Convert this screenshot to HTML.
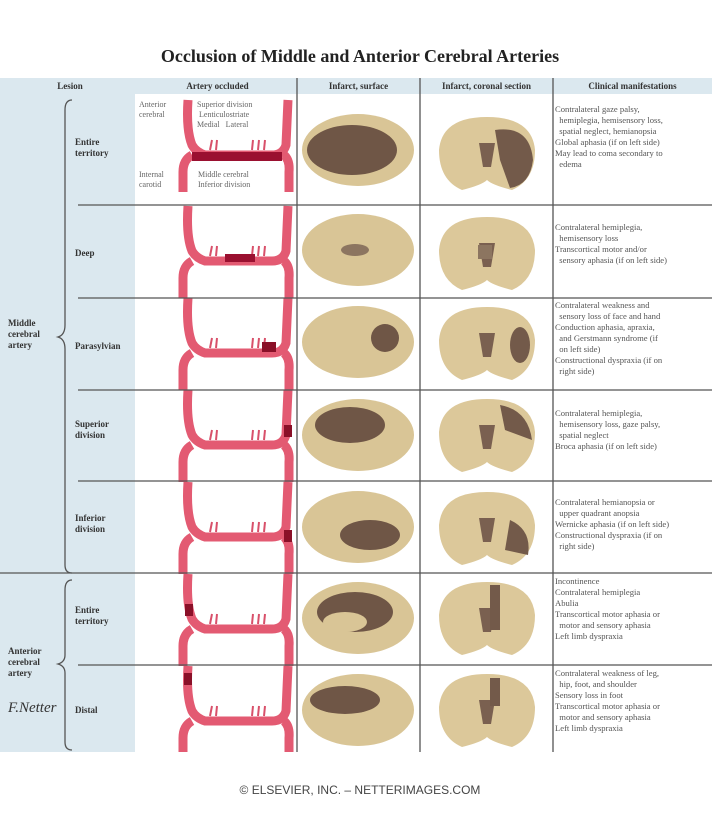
<!DOCTYPE html>
<html><head><meta charset="utf-8"><style>
body{margin:0;width:720px;height:832px;background:#fff;position:relative;overflow:hidden;font-family:"Liberation Serif",serif;color:#444}
.a{position:absolute}
.h{font-size:9px;font-weight:bold;color:#333;text-align:center}
.c{font-size:8.6px;line-height:11px;color:#555;left:555px;width:160px}
.c div{text-indent:-5px;padding-left:5px}
.l{font-size:9px;font-weight:bold;color:#333;line-height:11px}
.s{font-size:8px;color:#666;line-height:10px}
</style></head><body>
<div class="a" style="left:0;top:78px;width:135px;height:674px;background:#dbe8ef"></div>
<div class="a" style="left:135px;top:78px;width:577px;height:16px;background:#dbe8ef"></div>
<div class="a" style="left:0;top:46px;width:720px;text-align:center;font-size:18px;font-weight:bold;color:#222">Occlusion of Middle and Anterior Cerebral Arteries</div>
<div class="a h" style="left:30px;top:81px;width:80px">Lesion</div>
<div class="a h" style="left:140px;top:81px;width:155px">Artery occluded</div>
<div class="a h" style="left:297px;top:81px;width:123px">Infarct, surface</div>
<div class="a h" style="left:420px;top:81px;width:133px">Infarct, coronal section</div>
<div class="a h" style="left:553px;top:81px;width:159px">Clinical manifestations</div>
<svg class="a" style="left:0;top:0" width="720" height="832">
<defs>
<g id="ar"><path d="M188 0 Q186 30 192 45 Q196 52 205 55 L272 55 Q283 55 286 45 L288 0" stroke="#e35a72" stroke-width="9" fill="none"/>
<path d="M192 55 Q183 60 183 72 L183 92 M284 55 Q290 60 289 72 L289 92" stroke="#e35a72" stroke-width="9" fill="none"/>
<path d="M210 50 L212 40 M216 50 L217 40 M252 50 L253 40 M258 50 L259 40 M264 50 L265 40" stroke="#d8506a" stroke-width="2"/></g>
<g id="sb"><ellipse cx="0" cy="0" rx="56" ry="36" fill="#d9c596"/></g>
<g id="cb"><path d="M-48 -5 Q-45 -38 0 -38 Q45 -38 48 -5 Q48 25 25 35 Q5 30 0 25 Q-5 30 -25 35 Q-48 25 -48 -5Z" fill="#dcc89a"/><path d="M-8 -12 L8 -12 L4 12 L-4 12Z" fill="#7a6050"/></g>
</defs>
<use href="#ar" x="0" y="100"/><use href="#ar" x="0" y="206"/><use href="#ar" x="0" y="298"/><use href="#ar" x="0" y="390"/><use href="#ar" x="0" y="482"/><use href="#ar" x="0" y="574"/><use href="#ar" x="0" y="666"/>
<rect x="0" y="752" width="720" height="30" fill="#fff"/>
<g stroke="#555" stroke-width="1.3" fill="none">
<line x1="297" y1="78" x2="297" y2="752"/><line x1="420" y1="78" x2="420" y2="752"/><line x1="553" y1="78" x2="553" y2="752"/>
<line x1="78" y1="205" x2="712" y2="205"/><line x1="78" y1="298" x2="712" y2="298"/><line x1="78" y1="390" x2="712" y2="390"/><line x1="78" y1="481" x2="712" y2="481"/><line x1="0" y1="573" x2="712" y2="573"/><line x1="78" y1="665" x2="712" y2="665"/>
<path d="M72 100 Q65 100 65 110 L65 325 Q65 335 58 337 Q65 339 65 349 L65 565 Q65 573 72 573"/>
<path d="M72 580 Q65 580 65 590 L65 655 Q65 662 58 664 Q65 666 65 673 L65 742 Q65 750 72 750"/>
</g>
<rect x="192" y="152" width="90" height="9" fill="#9a1030"/>
<rect x="225" y="254" width="30" height="8" fill="#9a1030"/>
<rect x="262" y="342" width="14" height="10" fill="#8a1028"/>
<rect x="284" y="425" width="8" height="12" fill="#8a1028"/>
<rect x="284" y="530" width="8" height="12" fill="#8a1028"/>
<rect x="185" y="604" width="8" height="12" fill="#8a1028"/>
<rect x="184" y="673" width="8" height="12" fill="#8a1028"/>
<use href="#sb" x="358" y="150"/><use href="#sb" x="358" y="250"/><use href="#sb" x="358" y="342"/><use href="#sb" x="358" y="435"/><use href="#sb" x="358" y="527"/><use href="#sb" x="358" y="618"/><use href="#sb" x="358" y="710"/>
<ellipse cx="352" cy="150" rx="45" ry="25" fill="#6f5646"/>
<ellipse cx="355" cy="250" rx="14" ry="6" fill="#8c7560"/>
<ellipse cx="385" cy="338" rx="14" ry="14" fill="#6f5646"/>
<ellipse cx="350" cy="425" rx="35" ry="18" fill="#6f5646"/>
<ellipse cx="370" cy="535" rx="30" ry="15" fill="#6f5646"/>
<ellipse cx="355" cy="612" rx="38" ry="20" fill="#6f5646"/><ellipse cx="345" cy="622" rx="22" ry="10" fill="#d9c596"/>
<ellipse cx="345" cy="700" rx="35" ry="14" fill="#6f5646"/>
<use href="#cb" x="487" y="155"/><use href="#cb" x="487" y="255"/><use href="#cb" x="487" y="345"/><use href="#cb" x="487" y="437"/><use href="#cb" x="487" y="530"/><use href="#cb" x="487" y="620"/><use href="#cb" x="487" y="712"/>
<path d="M495 130 Q530 125 533 160 Q530 185 510 188 L500 160Z" fill="#735a4a"/>
<rect x="478" y="245" width="14" height="14" fill="#8c7560"/>
<ellipse cx="520" cy="345" rx="10" ry="18" fill="#735a4a"/>
<path d="M500 405 Q528 410 532 440 L505 430Z" fill="#735a4a"/>
<path d="M510 520 Q532 530 528 555 L505 550Z" fill="#735a4a"/>
<rect x="490" y="585" width="10" height="45" fill="#735a4a"/>
<rect x="490" y="678" width="10" height="28" fill="#735a4a"/>
</svg>
<div class="a s" style="left:139px;top:100px">Anterior<br>cerebral</div>
<div class="a s" style="left:197px;top:100px">Superior division<br>&nbsp;Lenticulostriate<br>Medial &nbsp;&nbsp;Lateral</div>
<div class="a s" style="left:139px;top:170px">Internal<br>carotid</div>
<div class="a s" style="left:198px;top:170px">Middle cerebral<br>Inferior division</div>
<div class="a l" style="left:75px;top:137px">Entire<br>territory</div>
<div class="a l" style="left:75px;top:248px">Deep</div>
<div class="a l" style="left:75px;top:341px">Parasylvian</div>
<div class="a l" style="left:75px;top:419px">Superior<br>division</div>
<div class="a l" style="left:75px;top:513px">Inferior<br>division</div>
<div class="a l" style="left:75px;top:605px">Entire<br>territory</div>
<div class="a l" style="left:75px;top:705px">Distal</div>
<div class="a l" style="left:8px;top:318px">Middle<br>cerebral<br>artery</div>
<div class="a l" style="left:8px;top:646px">Anterior<br>cerebral<br>artery</div>
<div class="a" style="left:8px;top:700px;font-style:italic;font-size:15px;color:#333">F.Netter</div>
<div class="a c" style="top:104px"><div>Contralateral gaze palsy,</div><div>&nbsp;&nbsp;hemiplegia, hemisensory loss,</div><div>&nbsp;&nbsp;spatial neglect, hemianopsia</div><div>Global aphasia (if on left side)</div><div>May lead to coma secondary to</div><div>&nbsp;&nbsp;edema</div></div>
<div class="a c" style="top:222px"><div>Contralateral hemiplegia,</div><div>&nbsp;&nbsp;hemisensory loss</div><div>Transcortical motor and/or</div><div>&nbsp;&nbsp;sensory aphasia (if on left side)</div></div>
<div class="a c" style="top:300px"><div>Contralateral weakness and</div><div>&nbsp;&nbsp;sensory loss of face and hand</div><div>Conduction aphasia, apraxia,</div><div>&nbsp;&nbsp;and Gerstmann syndrome (if</div><div>&nbsp;&nbsp;on left side)</div><div>Constructional dyspraxia (if on</div><div>&nbsp;&nbsp;right side)</div></div>
<div class="a c" style="top:408px"><div>Contralateral hemiplegia,</div><div>&nbsp;&nbsp;hemisensory loss, gaze palsy,</div><div>&nbsp;&nbsp;spatial neglect</div><div>Broca aphasia (if on left side)</div></div>
<div class="a c" style="top:497px"><div>Contralateral hemianopsia or</div><div>&nbsp;&nbsp;upper quadrant anopsia</div><div>Wernicke aphasia (if on left side)</div><div>Constructional dyspraxia (if on</div><div>&nbsp;&nbsp;right side)</div></div>
<div class="a c" style="top:576px"><div>Incontinence</div><div>Contralateral hemiplegia</div><div>Abulia</div><div>Transcortical motor aphasia or</div><div>&nbsp;&nbsp;motor and sensory aphasia</div><div>Left limb dyspraxia</div></div>
<div class="a c" style="top:668px"><div>Contralateral weakness of leg,</div><div>&nbsp;&nbsp;hip, foot, and shoulder</div><div>Sensory loss in foot</div><div>Transcortical motor aphasia or</div><div>&nbsp;&nbsp;motor and sensory aphasia</div><div>Left limb dyspraxia</div></div>
<div class="a" style="left:0;top:783px;width:720px;text-align:center;font-family:'Liberation Sans',sans-serif;font-size:12px;color:#444">© ELSEVIER, INC. – NETTERIMAGES.COM</div>
</body></html>
